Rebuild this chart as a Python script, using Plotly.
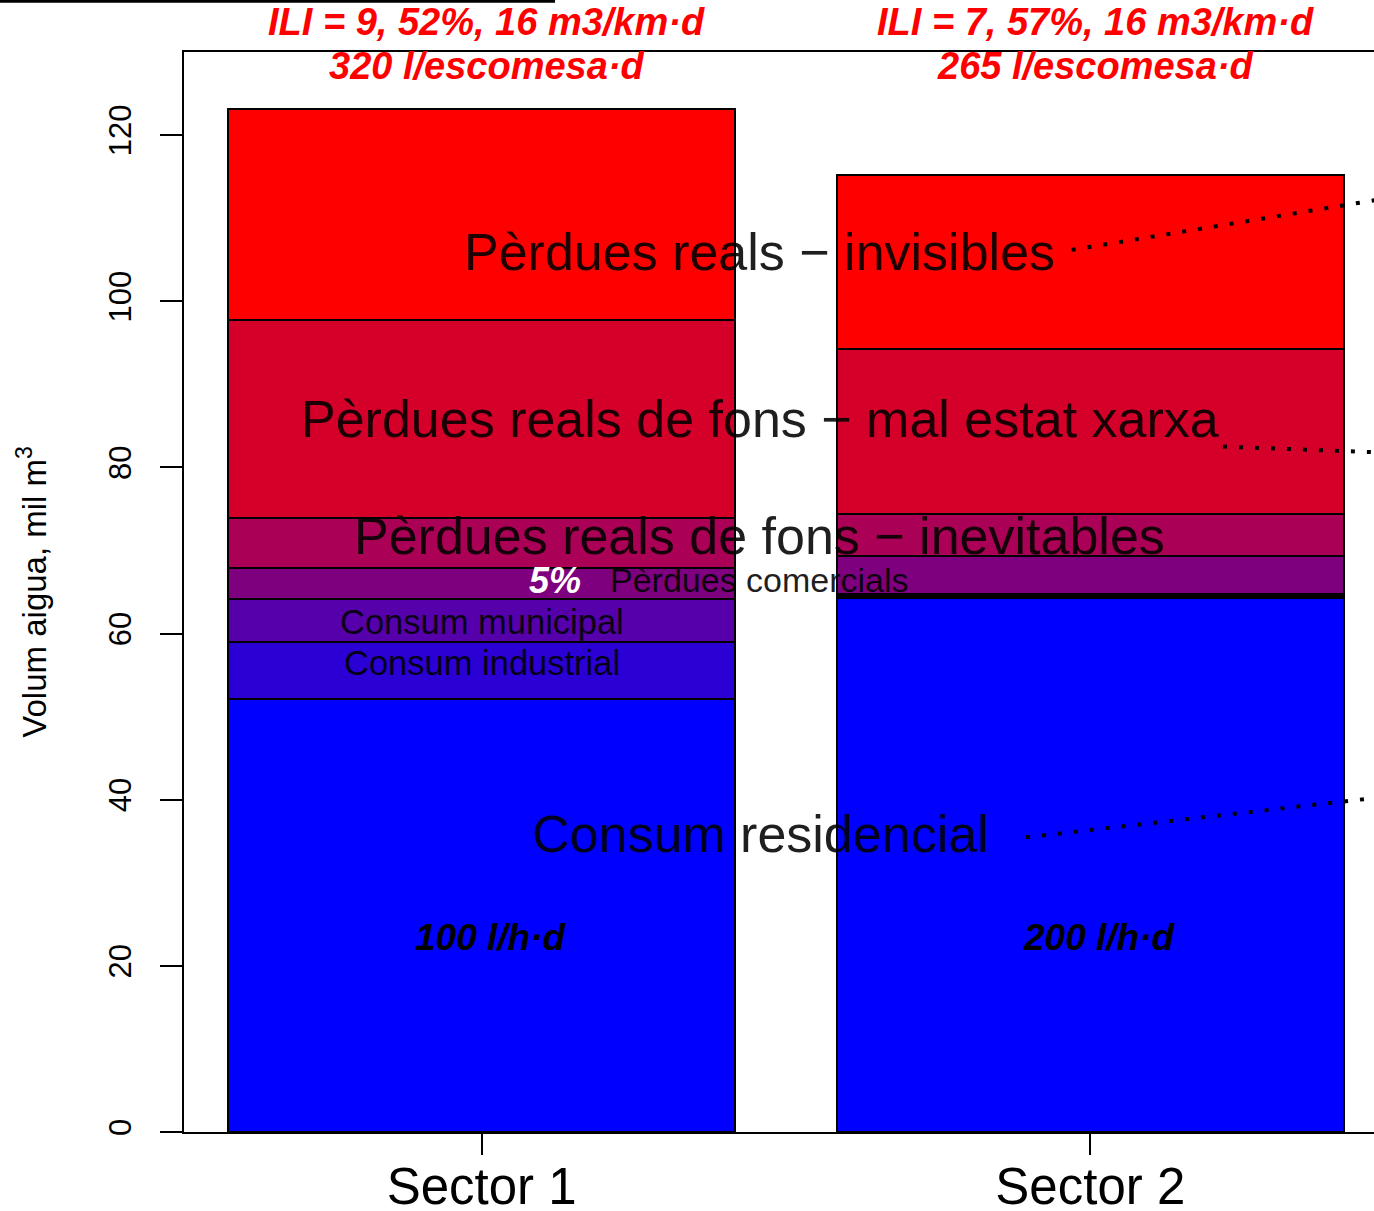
import plotly.graph_objects as go

# ---- data ----
sectors = ["Sector 1", "Sector 2"]
sector_x = [0.7, 1.9]
components = [
    "Consum residencial",
    "Consum industrial",
    "Consum municipal",
    "Pèrdues comercials",
    "Pèrdues reals de fons − inevitables",
    "Pèrdues reals de fons − mal estat xarxa",
    "Pèrdues reals − invisibles",
]
sector1_values = [52.1, 6.9, 5.1, 3.75, 6.0, 23.95, 25.3]
sector2_values = [64.3, 0.2, 0.2, 4.6, 5.05, 19.85, 21.05]
colors = ["#0000FF", "#2A00D4", "#5500AA", "#7F007F", "#AA0055", "#D4002A", "#FF0000"]
y_ticks = [0, 20, 40, 60, 80, 100, 120]
titles_line1 = ["ILI = 9, 52%, 16 m3/km·d", "ILI = 7, 57%, 16 m3/km·d"]
titles_line2 = ["320 l/escomesa·d", "265 l/escomesa·d"]
per_capita = ["100 l/h·d", "200 l/h·d"]

FONT = "Liberation Sans, Arial, sans-serif"
TXT = "rgba(0,0,0,0.88)"

fig = go.Figure()
for i, comp in enumerate(components):
    fig.add_trace(go.Bar(
        x=sector_x,
        y=[sector1_values[i], sector2_values[i]],
        width=1.0,
        name=comp,
        marker=dict(color=colors[i], line=dict(color="black", width=2)),
        showlegend=False,
        hoverinfo="skip",
    ))

ann = []
def A(text, x, y, size, color=TXT, bold=False, italic=False, xref="x", yref="y", angle=0):
    t = text
    if bold:
        t = "<b>" + t + "</b>"
    if italic:
        t = "<i>" + t + "</i>"
    ann.append(dict(text=t, x=x, y=y, xref=xref, yref=yref, showarrow=False,
                    xanchor="center", yanchor="middle", textangle=angle,
                    font=dict(family=FONT, size=size, color=color)))

# component labels
A("Pèrdues reals − invisibles", 1.2488, 105.9, 52)
A("Pèrdues reals de fons − mal estat xarxa", 1.2488, 85.8, 52)
A("Pèrdues reals de fons − inevitables", 1.2488, 71.7, 52)
A("Pèrdues comercials", 1.2488, 66.4, 34)
A("Consum municipal", 0.7008, 61.34, 34.5)
A("Consum industrial", 0.7008, 56.4, 34.5)
A("Consum residencial", 1.2508, 35.93, 52)
A("5%", 0.8449, 66.4, 36, color="white", bold=True, italic=True)
for i in range(2):
    A(per_capita[i], sector_x[i] + 0.0166, 23.41, 37, color="black", bold=True, italic=True)
    A(titles_line1[i], sector_x[i] + 0.0106, 1.0278, 38, color="#FF0000", bold=True, italic=True, yref="paper")
    A(titles_line2[i], sector_x[i] + 0.0106, 128.31, 38, color="#FF0000", bold=True, italic=True)

# y-axis title
ann.append(dict(text="Volum aigua, mil m<sup>3</sup>", x=-0.128, y=65.0, xref="paper", yref="y",
                showarrow=False, textangle=-90, xanchor="center", yanchor="middle",
                font=dict(family=FONT, size=33, color="black")))

dot = dict(color="black", width=4, dash="4px,12px")
shapes = [
    dict(type="line", xref="x", yref="y", x0=1.8633, y0=106.18, x1=2.47, y1=112.25, line=dot),
    dict(type="line", xref="x", yref="y", x0=2.1616, y0=82.51, x1=2.47, y1=81.80, line=dot),
    dict(type="line", xref="x", yref="y", x0=1.7734, y0=35.48, x1=2.445, y1=40.1, line=dot),
    dict(type="line", xref="paper", yref="paper", x0=-0.16, y0=1.047, x1=0.3118, y1=1.047,
         line=dict(color="black", width=3)),
]

fig.update_layout(
    width=1374, height=1211,
    margin=dict(l=184, r=0, t=52, b=79, pad=0, autoexpand=False),
    plot_bgcolor="white", paper_bgcolor="white",
    barmode="stack", bargap=0,
    annotations=ann, shapes=shapes,
    font=dict(family=FONT, color="black"),
)
fig.update_xaxes(
    range=[0.1133, 2.4593], showgrid=False, zeroline=False, automargin=False,
    showline=True, linecolor="black", linewidth=2, mirror=True,
    tickvals=sector_x, ticktext=sectors, ticks="outside", ticklen=21, tickwidth=2,
    tickcolor="black", tickfont=dict(family=FONT, size=51, color="black"),
    ticklabelstandoff=-12,
)
fig.update_yaxes(
    range=[0, 130], showgrid=False, zeroline=False, automargin=False,
    showline=True, linecolor="black", linewidth=2,
    tickvals=y_ticks, ticks="outside", ticklen=22, tickwidth=2, tickcolor="black",
    tickangle=-90, tickfont=dict(family=FONT, size=31, color="black"),
    ticklabelstandoff=17,
)

fig.write_html("out.html", config={"displayModeBar": False},
               post_script="document.body.style.margin='0';document.body.style.overflow='hidden';")
